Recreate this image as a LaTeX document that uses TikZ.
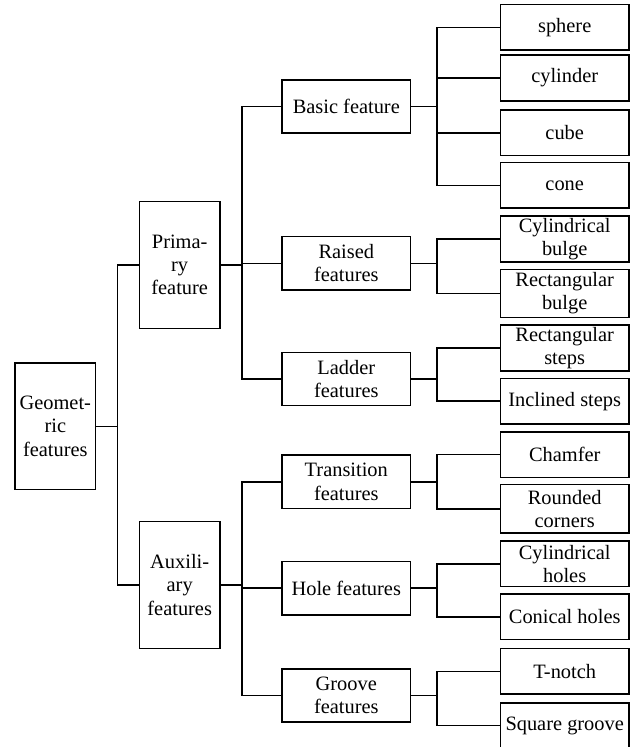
\documentclass[tikz,border=0pt]{standalone}
\usepackage{fontspec}
\setmainfont{Liberation Serif}
\usetikzlibrary{positioning}
\tikzset{
  featbox/.style={draw, line width=1.2pt, align=center, inner sep=0.5pt,
    font=\fontsize{15.3}{17.5}\selectfont},
  tallbox/.style={featbox, minimum width=60.5pt, minimum height=95pt},
  midbox/.style={featbox, minimum width=96.5pt, minimum height=40pt},
  leafbox/.style={featbox, minimum width=96.5pt, minimum height=34.2pt},
  link/.style={line width=1.2pt}
}

\begin{document}
\begin{tikzpicture}[x=0.75pt,y=-0.75pt]
    \clip (0,0) rectangle (638,747);
    % root and first level
    \node[tallbox] (geo) at (55.3,426.3) {Geomet-\\ric\\features};
    \node[tallbox] (prim) at (179.7,265) {Prima-\\ry\\feature};
    \node[tallbox] (aux) at (179.7,585) {Auxili-\\ary\\features};
    % second level
    \node[midbox] (basic) at (346.3,106.5) {Basic feature};
    \node[midbox] (raised) at (346.3,263.3) {Raised\\features};
    \node[midbox] (ladder) at (346.3,379) {Ladder\\features};
    \node[midbox] (trans) at (346.3,481.8) {Transition\\features};
    \node[midbox] (hole) at (346.3,588.2) {Hole features};
    \node[midbox] (groove) at (346.3,695.5) {Groove\\features};
    % leaves
    \node[leafbox] (sphere) at (564.7,27.3) {sphere};
    \node[leafbox] (cylinder) at (564.7,78) {cylinder};
    \node[leafbox] (cube) at (564.7,132.7) {cube};
    \node[leafbox] (cone) at (564.7,185.3) {cone};
    \node[leafbox] (cylbulge) at (564.7,239) {Cylindrical\\bulge};
    \node[leafbox, minimum height=36pt] (rectbulge) at (564.7,293.3) {Rectangular\\bulge};
    \node[leafbox] (rectsteps) at (564.7,348) {Rectangular\\steps};
    \node[leafbox] (inclsteps) at (564.7,401.2) {Inclined steps};
    \node[leafbox] (chamfer) at (564.7,454.5) {Chamfer};
    \node[leafbox, minimum height=36.7pt] (rounded) at (564.7,508.8) {Rounded\\corners};
    \node[leafbox] (cylholes) at (564.7,563.8) {Cylindrical\\holes};
    \node[leafbox] (conholes) at (564.7,616.7) {Conical holes};
    \node[leafbox] (tnotch) at (564.7,671.3) {T-notch};
    \node[leafbox] (sqgroove) at (564.7,725.5) {Square groove};
    % connectors
    \foreach \c in {prim,aux}
      \draw[link] (geo.east) -- ++(21,0) |- (\c.west);
    \foreach \c in {basic,raised,ladder}
      \draw[link] (prim.east) -- ++(21,0) |- (\c.west);
    \foreach \c in {trans,hole,groove}
      \draw[link] (aux.east) -- ++(21,0) |- (\c.west);
    \foreach \p/\kids in {basic/{sphere,cylinder,cube,cone},
        raised/{cylbulge,rectbulge}, ladder/{rectsteps,inclsteps},
        trans/{chamfer,rounded}, hole/{cylholes,conholes},
        groove/{tnotch,sqgroove}}
      \foreach \c in \kids
        \draw[link] (\p.east) -- ++(25.6,0) |- (\c.west);
\end{tikzpicture}
\end{document}
